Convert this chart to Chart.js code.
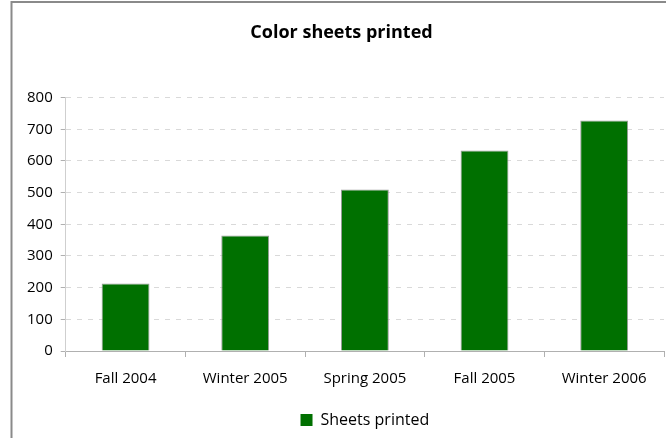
<!DOCTYPE html>
<html lang="en">
<head>
<meta charset="UTF-8">
<title>Color sheets printed</title>
<script src="https://cdn.jsdelivr.net/npm/chart.js"></script>
<style>
body{margin:0;background:#fff;}
.wrap{width:666px;height:438px;position:relative;}
</style>
</head>
<body>
<div class="wrap"><canvas id="chart" width="666" height="438"></canvas></div>
<script>
/* data */
const terms=["Fall 2004","Winter 2005","Spring 2005","Fall 2005","Winter 2006"];
const sheets=[213,365,510,633,728];
const yTicks=[0,100,200,300,400,500,600,700,800];

const GREEN="#007000";
const FONT="'Open Sans', sans-serif";

/* grey frame on the left and top edge, like the pasted chart box */
const framePlugin={
    id:"frame",
    beforeDraw(chart){
        const c=chart.ctx;
        c.save();
        c.fillStyle="#fff";
        c.fillRect(0,0,chart.width,chart.height);
        c.strokeStyle="#8a8a8a";
        c.lineWidth=2;
        c.beginPath();
        c.moveTo(11.5,chart.height);
        c.lineTo(11.5,2);
        c.lineTo(chart.width,2);
        c.stroke();
        c.restore();
    },
    // legend sits centred under the plot area, not the whole canvas
    afterLayout(chart){
        if(chart.legend){
            chart.legend.left=chart.chartArea.left;
            chart.legend.right=chart.chartArea.right;
        }
    }
};

new Chart(document.getElementById("chart"),{
    type:"bar",
    data:{
        labels:terms,
        datasets:[{
            label:"Sheets printed",
            data:sheets,
            backgroundColor:GREEN,
            borderColor:"#9a9a9a",
            borderWidth:1,
            barPercentage:0.4,
            categoryPercentage:1
        }]
    },
    options:{
        responsive:false,
        animation:false,
        layout:{padding:{left:19,right:2,top:4,bottom:0}},
        scales:{
            x:{
                grid:{offset:true,drawOnChartArea:false,color:"#b0b0b0",tickLength:6},
                border:{color:"#b0b0b0"},
                ticks:{color:"#000",font:{family:FONT,size:15,weight:"500"},padding:13},
                afterFit:s=>{s.height=53;}
            },
            y:{
                min:0,max:800,
                afterBuildTicks:s=>{s.ticks=yTicks.map(v=>({value:v}));},
                grid:{color:"#d9d9d9",tickColor:"#b0b0b0",tickLength:5},
                border:{color:"#cfcfcf",dash:[5,6]},
                ticks:{color:"#000",font:{family:FONT,size:15,weight:"500"},padding:8}
            }
        },
        plugins:{
            title:{
                display:true,
                text:"Color sheets printed",
                color:"#000",
                font:{family:FONT,size:18,weight:"bold"},
                padding:{top:18,bottom:54}
            },
            legend:{
                position:"bottom",
                labels:{
                    color:"#000",
                    font:{family:FONT,size:16,weight:"500"},
                    boxWidth:12,boxHeight:12,
                    padding:8,
                    generateLabels:ch=>[{
                        text:"Sheets printed",
                        fillStyle:GREEN,
                        strokeStyle:GREEN,
                        lineWidth:0,
                        datasetIndex:0
                    }]
                }
            },
            tooltip:{enabled:false}
        }
    },
    plugins:[framePlugin]
});
</script>
</body>
</html>
